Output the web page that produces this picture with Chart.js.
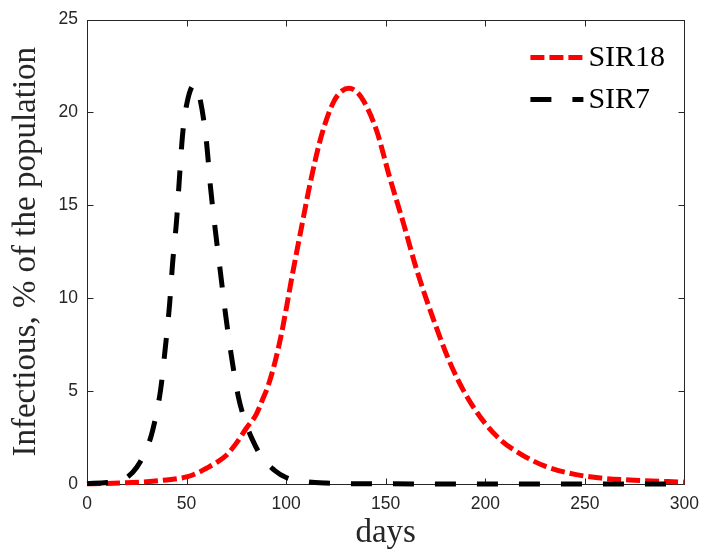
<!DOCTYPE html>
<html><head><meta charset="utf-8">
<script src="https://cdn.jsdelivr.net/npm/chart.js@4.4.1/dist/chart.umd.min.js"></script>
<style>html,body{margin:0;padding:0;background:#fff}#wrap{width:709px;height:554px}</style>
</head><body><div id="wrap"><canvas id="c" width="709" height="554"></canvas></div>
<script>
const seriesLabels = ['SIR18', 'SIR7'];
const sir18Days = [0, 10, 20, 30, 40, 50, 56, 60, 65, 70, 75, 80, 85, 88, 91, 94.5, 97.5, 100, 102.5, 107.5, 112.5, 118, 124, 128, 131.5, 135, 139, 145.5, 152, 159, 165.5, 174, 182, 190, 200, 208.5, 218, 230, 245, 258, 275, 300];
const sir18Values = [0.01, 0.03, 0.07, 0.12, 0.22, 0.38, 0.62, 0.85, 1.15, 1.55, 2.2, 3.0, 3.75, 4.5, 5.3, 6.6, 8.0, 9.4, 10.9, 13.7, 16.4, 18.85, 20.6, 21.15, 21.3, 21.15, 20.6, 19.0, 16.5, 14.0, 11.55, 8.85, 6.6, 4.85, 3.25, 2.3, 1.6, 0.96, 0.52, 0.32, 0.2, 0.1];
const sir7Days = [0, 10, 15, 20, 25, 30, 33, 37, 39, 41.5, 43, 45, 46.5, 48, 50, 54, 57, 60, 62, 64.5, 67, 69.5, 72.5, 76, 80, 83, 88, 94, 100, 110, 120, 140, 300];
const sir7Values = [0.02, 0.08, 0.15, 0.35, 0.9, 1.9, 2.9, 5.1, 7.0, 9.7, 11.9, 14.2, 16.6, 18.8, 20.4, 21.5, 20.6, 18.4, 16.0, 13.6, 11.4, 9.2, 6.9, 4.7, 3.2, 2.4, 1.4, 0.75, 0.35, 0.13, 0.05, 0.01, 0];
const xTicks = [0, 50, 100, 150, 200, 250, 300];
const yTicks = [0, 5, 10, 15, 20, 25];
const xTitle = 'days';
const yTitle = 'Infectious, % of the population';

const toPts = (xs, ys) => xs.map((d, i) => ({x: d, y: ys[i]}));
const axisColor = '#262626';
const tickFont = {family: '"Liberation Sans", Arial, sans-serif', size: 17.5};
const titleFont = {family: '"Liberation Serif", "Times New Roman", serif', size: 33, lineHeight: 1};

const frame = {
  id: 'frame',
  beforeDatasetsDraw(chart) {
    const {ctx, chartArea: a, scales: {x, y}} = chart;
    ctx.save();
    ctx.strokeStyle = axisColor;
    ctx.lineWidth = 1;
    const l = Math.round(a.left) + 0.5, r = Math.round(a.right) + 0.5;
    const t = Math.round(a.top) + 0.5, b = Math.round(a.bottom) + 0.5;
    ctx.strokeRect(l, t, r - l, b - t);
    const L = 6;
    ctx.beginPath();
    x.ticks.forEach(tk => {
      const px = Math.round(x.getPixelForValue(tk.value)) + 0.5;
      ctx.moveTo(px, b); ctx.lineTo(px, b - L);
      ctx.moveTo(px, t); ctx.lineTo(px, t + L);
    });
    y.ticks.forEach(tk => {
      const py = Math.round(y.getPixelForValue(tk.value)) + 0.5;
      ctx.moveTo(l, py); ctx.lineTo(l + L, py);
      ctx.moveTo(r, py); ctx.lineTo(r - L, py);
    });
    ctx.stroke();
    ctx.restore();
  },
  afterDatasetsDraw(chart) {
    const {ctx, chartArea: a} = chart;
    ctx.save();
    const x0 = a.right - 154, x1 = a.right - 101, tx = a.right - 96;
    chart.data.datasets.forEach((ds, i) => {
      const ly = a.top + 38 + i * 42;
      ctx.strokeStyle = ds.borderColor;
      ctx.lineWidth = ds.borderWidth;
      ctx.lineCap = 'butt';
      ctx.setLineDash(ds.borderDash || []);
      ctx.beginPath();
      ctx.moveTo(x0, ly); ctx.lineTo(x1, ly);
      ctx.stroke();
      ctx.setLineDash([]);
      ctx.fillStyle = '#000';
      ctx.font = '30px "Liberation Serif", "Times New Roman", serif';
      ctx.textBaseline = 'alphabetic';
      ctx.textAlign = 'left';
      ctx.fillText(ds.label, tx, ly + 8);
    });
    ctx.restore();
  }
};

new Chart(document.getElementById('c'), {
  type: 'line',
  data: {
    datasets: [
      {label: seriesLabels[0], data: toPts(sir18Days, sir18Values), borderColor: '#ff0000', borderWidth: 5,
       borderDash: [14, 5], borderCapStyle: 'butt', pointRadius: 0, cubicInterpolationMode: 'monotone', fill: false, order: 2, clip: 6},
      {label: seriesLabels[1], data: toPts(sir7Days, sir7Values), borderColor: '#000000', borderWidth: 5,
       borderDash: [21, 21], borderCapStyle: 'butt', pointRadius: 0, cubicInterpolationMode: 'monotone', fill: false, order: 1, clip: 6}
    ]
  },
  options: {
    responsive: false,
    animation: false,
    devicePixelRatio: 1,
    layout: {padding: {left: 0, right: 18, top: 14, bottom: 0}},
    plugins: {legend: {display: false}, tooltip: {enabled: false}},
    scales: {
      x: {
        type: 'linear', min: 0, max: 300,
        afterBuildTicks: s => { s.ticks = xTicks.map(v => ({value: v})); },
        afterFit: s => { s.height = 70; },
        grid: {display: false, drawTicks: false},
        border: {display: false},
        ticks: {font: tickFont, color: axisColor, padding: 10, maxRotation: 0},
        title: {display: true, text: xTitle, font: titleFont, color: axisColor, padding: {top: 0, bottom: 4}}
      },
      y: {
        type: 'linear', min: 0, max: 25,
        afterBuildTicks: s => { s.ticks = yTicks.map(v => ({value: v})); },
        afterFit: s => { s.width = 87; },
        grid: {display: false, drawTicks: false},
        border: {display: false},
        ticks: {font: tickFont, color: axisColor, padding: 9},
        title: {display: true, text: yTitle, font: titleFont, color: axisColor, padding: {top: 10, bottom: 0}}
      }
    }
  },
  plugins: [frame]
});
</script>
</body></html>
